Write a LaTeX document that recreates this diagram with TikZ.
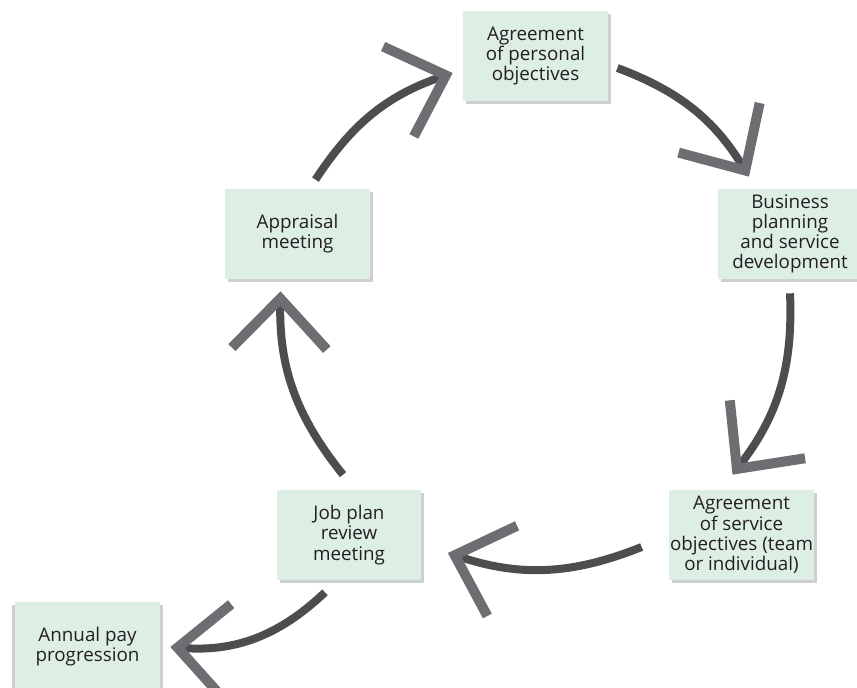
\documentclass[tikz,border=0pt]{standalone}
\usepackage{fontspec}
\setmainfont{Open Sans}
\usetikzlibrary{arrows.meta,shadows}

\definecolor{boxgreen}{RGB}{221,238,229}
\definecolor{shadowgray}{RGB}{207,207,209}
\definecolor{shaftgray}{RGB}{77,77,79}
\definecolor{chevgray}{RGB}{109,110,113}
\definecolor{textgray}{RGB}{35,31,32}

\begin{document}
\begin{tikzpicture}[
    x=0.02cm, y=0.02cm,
    stage/.style={
        rectangle,
        minimum width=2.9cm,
        minimum height=1.8cm,
        inner sep=0pt,
        align=center,
        fill=boxgreen,
        text=textgray,
        font=\fontsize{10.7}{11.5}\selectfont,
        general shadow={fill=shadowgray, shadow xshift=0.06cm, shadow yshift=-0.06cm}
    },
    cycle/.style={
        line width=0.16cm,
        shaftgray,
        -{Straight Barb[length=1cm, width=1.9cm, line width=0.2cm, sharp, color=chevgray]}
    }
]
\useasboundingbox (0,0) rectangle (857,688);

% Stages
\node[stage] (agree) at (535.5,632) {Agreement\\of personal\\objectives};
\node[stage] (business) at (790,454) {Business\\planning\\and service\\development};
\node[stage] (service) at (741.5,153) {Agreement\\of service\\objectives (team\\or individual)};
\node[stage] (jobplan) at (349,153) {Job plan\\review\\meeting};
\node[stage] (appraisal) at (297.5,454) {Appraisal\\meeting};
\node[stage, general shadow={fill=shadowgray, shadow xshift=-0.06cm, shadow yshift=-0.06cm}] (annual) at (87.5,41) {Annual pay\\progression};

% Cycle arrows
\draw[cycle] ([shift={(18,9)}]appraisal.north) to[bend left=19] ([shift={(-10,-17)}]agree.west);
\draw[cycle] ([shift={(9,-12)}]agree.east) to[bend left=19] ([shift={(-41,12)}]business.north);
\draw[cycle] ([shift={(0,-14)}]business.south) to[bend left=20] ([shift={(-9,15)}]service.north);
\draw[cycle] ([shift={(-27,-12)}]service.west) to[bend left=20] ([shift={(26,-18)}]jobplan.east);
\draw[cycle] ([shift={(-6,15)}]jobplan.north) to[bend left=20] ([shift={(-17,-12)}]appraisal.south);
\draw[cycle] ([shift={(-24,-12)}]jobplan.south) to[bend left=24] ([shift={(10,0)}]annual.east);

\end{tikzpicture}
\end{document}
